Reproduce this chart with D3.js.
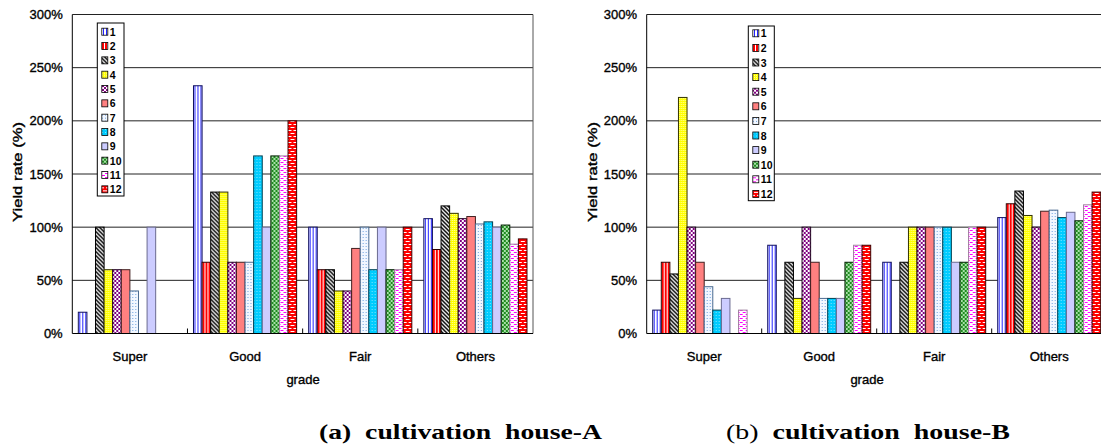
<!DOCTYPE html>
<html>
<head>
<meta charset="utf-8">
<script src="https://cdn.jsdelivr.net/npm/d3@7"></script>
<style>
  html, body { margin: 0; padding: 0; background: #fff; }
  svg { display: block; }
  .ax { font-family: "Liberation Sans", Arial, sans-serif; fill: #000; }
  .cap { font-family: "Liberation Serif", "DejaVu Serif", serif; fill: #000; white-space: pre; }
</style>
</head>
<body>
<svg id="fig" width="1101" height="448"></svg>
<script>
// Grade categories on the x axis and the twelve series shown in the legend
const categories = ["Super", "Good", "Fair", "Others"];
const seriesNames = ["1", "2", "3", "4", "5", "6", "7", "8", "9", "10", "11", "12"];
const yTicks = [0, 50, 100, 150, 200, 250, 300];

// Yield rate (%) per series, one array per grade — cultivation house A
const houseA_Super  = [20, 0, 100, 60, 60, 60, 40, 0, 100, 0, 0, 0];
const houseA_Good   = [233, 67, 133, 133, 67, 67, 67, 167, 100, 167, 167, 200];
const houseA_Fair   = [100, 60, 60, 40, 40, 80, 100, 60, 100, 60, 60, 100];
const houseA_Others = [108, 79, 120, 113, 108, 110, 103, 105, 100, 102, 84, 89];

// Yield rate (%) per series, one array per grade — cultivation house B
const houseB_Super  = [22, 67, 56, 222, 100, 67, 44, 22, 33, 0, 22, 0];
const houseB_Good   = [83, 0, 67, 33, 100, 67, 33, 33, 33, 67, 83, 83];
const houseB_Fair   = [67, 0, 67, 100, 100, 100, 100, 100, 67, 67, 100, 100];
const houseB_Others = [109, 122, 134, 111, 100, 115, 116, 109, 114, 106, 121, 133];

const svg = d3.select("#fig");
const defs = svg.append("defs");

// Fill patterns for the twelve series
function pat(id, w, h, bg, draw) {
  const p = defs.append("pattern").attr("id", id)
    .attr("patternUnits", "userSpaceOnUse").attr("width", w).attr("height", h);
  p.append("rect").attr("width", w).attr("height", h).attr("fill", bg);
  if (draw) draw(p);
}
const r = (p, x, y, w, h, c) => p.append("rect").attr("x", x).attr("y", y).attr("width", w).attr("height", h).attr("fill", c);

pat("p1", 3, 3, "#ffffff", p => r(p, 1, 0, 1, 3, "#2424ff"));
pat("p2", 3, 3, "#ff0000", p => r(p, 2, 0, 1, 3, "#ffffff"));
pat("p3", 4, 4, "#ffffff", p => p.append("path")
  .attr("d", "M-1,3 L1,5 M0,0 L4,4 M3,-1 L5,1").attr("stroke", "#000").attr("stroke-width", 1.5));
pat("p4", 2, 2, "#ffff00", p => r(p, 0, 0, 1, 1, "#ffffa0"));
pat("p5", 4, 4, "#800080", p => { r(p, 0, 0, 2, 2, "#ffffff"); r(p, 2, 2, 2, 2, "#ffffff"); });
pat("p6", 2, 2, "#ff8080");
pat("p7", 3, 3, "#f2f7ff", p => { r(p, 0, 0, 1, 1, "#6fa3e0"); });
pat("p8", 3, 3, "#00ccff", p => { r(p, 0, 0, 1, 1, "#7fe6ff"); });
pat("p9", 2, 2, "#ccccff");
pat("p10", 4, 4, "#1e8a1e", p => { r(p, 0, 0, 2, 2, "#a8e0a8"); r(p, 2, 2, 2, 2, "#a8e0a8"); });
pat("p11", 6, 4, "#ffffff", p => { r(p, 0, 0, 3, 1, "#ff00ff"); r(p, 3, 2, 3, 1, "#ff00ff"); });
pat("p12", 6, 6, "#ff0000", p => { r(p, 1, 1, 4, 1, "#ffffff"); r(p, 4, 4, 4, 1, "#ffffff"); r(p, -2, 4, 4, 1, "#ffffff"); });

const fills = seriesNames.map((d, i) => `url(#p${i + 1})`);
const strokes = ["#101060", "#300000", "#000", "#333300", "#200020", "#402020",
                 "#4a6a90", "#004050", "#6a6a90", "#002000", "#a080a0", "#400000"];

function drawChart(cfg) {
  const g = svg.append("g");
  const y = d3.scaleLinear().domain([0, 300]).range([cfg.bottom, cfg.top]);
  const x0 = d3.scaleBand().domain(categories).range([cfg.left, cfg.right]);
  const x1 = d3.scaleBand().domain(d3.range(seriesNames.length))
    .range([0, x0.bandwidth()]).paddingOuter(0.7).paddingInner(0);

  // horizontal gridlines
  g.append("g").selectAll("line").data(yTicks.slice(1)).join("line")
    .attr("x1", cfg.left).attr("x2", cfg.right)
    .attr("y1", d => y(d)).attr("y2", d => y(d))
    .attr("stroke", "#222").attr("stroke-width", 1);

  // bars
  const groups = g.append("g").selectAll("g").data(categories).join("g")
    .attr("transform", c => `translate(${x0(c)},0)`);
  groups.selectAll("rect")
    .data(c => cfg.values[c].map((v, i) => ({ v, i })).filter(d => d.v > 0))
    .join("rect")
    .attr("x", d => x1(d.i)).attr("width", x1.bandwidth())
    .attr("y", d => y(d.v)).attr("height", d => y(0) - y(d.v))
    .attr("fill", d => fills[d.i]).attr("stroke", d => strokes[d.i]).attr("stroke-width", 1);

  // frame: y axis, x axis, right border
  g.append("line").attr("x1", cfg.left).attr("x2", cfg.left).attr("y1", y(0)).attr("y2", y(300))
    .attr("stroke", "#000");
  g.append("line").attr("x1", cfg.right).attr("x2", cfg.right).attr("y1", y(0)).attr("y2", y(300))
    .attr("stroke", "#555");
  g.append("line").attr("x1", cfg.left).attr("x2", cfg.right).attr("y1", y(0)).attr("y2", y(0))
    .attr("stroke", "#000");

  // category separator ticks
  g.append("g").selectAll("line").data(categories.slice(1)).join("line")
    .attr("x1", c => x0(c)).attr("x2", c => x0(c))
    .attr("y1", y(0)).attr("y2", y(0) - 5).attr("stroke", "#000");

  // y tick labels
  g.append("g").selectAll("text").data(yTicks).join("text")
    .attr("class", "ax").attr("x", cfg.left - 9.6).attr("y", d => y(d))
    .attr("text-anchor", "end").attr("dominant-baseline", "central")
    .attr("font-size", 13).attr("stroke", "#000").attr("stroke-width", 0.35)
    .text(d => d + "%");

  // category labels
  g.append("g").selectAll("text").data(categories).join("text")
    .attr("class", "ax").attr("x", c => x0(c) + x0.bandwidth() / 2).attr("y", 361)
    .attr("text-anchor", "middle").attr("font-size", 13)
    .attr("stroke", "#000").attr("stroke-width", 0.35)
    .text(c => c);

  // axis titles
  g.append("text").attr("class", "ax").attr("x", cfg.gradeX).attr("y", 384)
    .attr("text-anchor", "middle").attr("font-size", 13)
    .attr("stroke", "#000").attr("stroke-width", 0.35).text("grade");
  g.append("text").attr("class", "ax")
    .attr("transform", `translate(${cfg.left - 50},172) rotate(-90)`)
    .attr("text-anchor", "middle").attr("font-size", 13)
    .attr("stroke", "#000").attr("stroke-width", 0.35)
    .attr("textLength", 100).attr("lengthAdjust", "spacingAndGlyphs")
    .text("Yield rate (%)");

  // legend
  const L = cfg.legend;
  const lg = g.append("g");
  lg.append("rect").attr("x", L.x).attr("y", L.y).attr("width", L.w).attr("height", L.h)
    .attr("fill", "#fff").attr("stroke", "#000").attr("stroke-width", 1);
  const items = lg.selectAll("g").data(seriesNames).join("g")
    .attr("transform", (d, i) => `translate(0,${L.first + i * L.step})`);
  items.append("rect").attr("x", L.x + 4.5).attr("y", -3.5).attr("width", 6).attr("height", 7)
    .attr("fill", (d, i) => fills[i]).attr("stroke", "#000").attr("stroke-width", 0.8);
  items.append("text").attr("class", "ax").attr("x", L.x + 12.5).attr("y", 0)
    .attr("dominant-baseline", "central").attr("font-size", 10.5).attr("font-weight", "bold")
    .text(d => d);
}

drawChart({
  left: 72.3, right: 533, top: 14.5, bottom: 333.5, gradeX: 303,
  values: { Super: houseA_Super, Good: houseA_Good, Fair: houseA_Fair, Others: houseA_Others },
  legend: { x: 97.3, y: 23, w: 26.7, h: 173, first: 31.7, step: 14.33 }
});
drawChart({
  left: 646.7, right: 1106.7, top: 14.5, bottom: 333.5, gradeX: 867,
  values: { Super: houseB_Super, Good: houseB_Good, Fair: houseB_Fair, Others: houseB_Others },
  legend: { x: 748.3, y: 26, w: 26, h: 174.7, first: 33.3, step: 14.6 }
});

// panel captions
const capA = svg.append("text").attr("class", "cap").attr("x", 319).attr("y", 439)
  .attr("font-size", 22).attr("font-weight", "bold")
  .attr("textLength", 283).attr("lengthAdjust", "spacingAndGlyphs");
capA.append("tspan").text("(a)  cultivation  house-A");
const capB = svg.append("text").attr("class", "cap").attr("x", 726).attr("y", 439)
  .attr("font-size", 22)
  .attr("textLength", 284).attr("lengthAdjust", "spacingAndGlyphs");
capB.append("tspan").text("(b)  ");
capB.append("tspan").attr("font-weight", "bold").text("cultivation  house-B");
</script>
</body>
</html>
